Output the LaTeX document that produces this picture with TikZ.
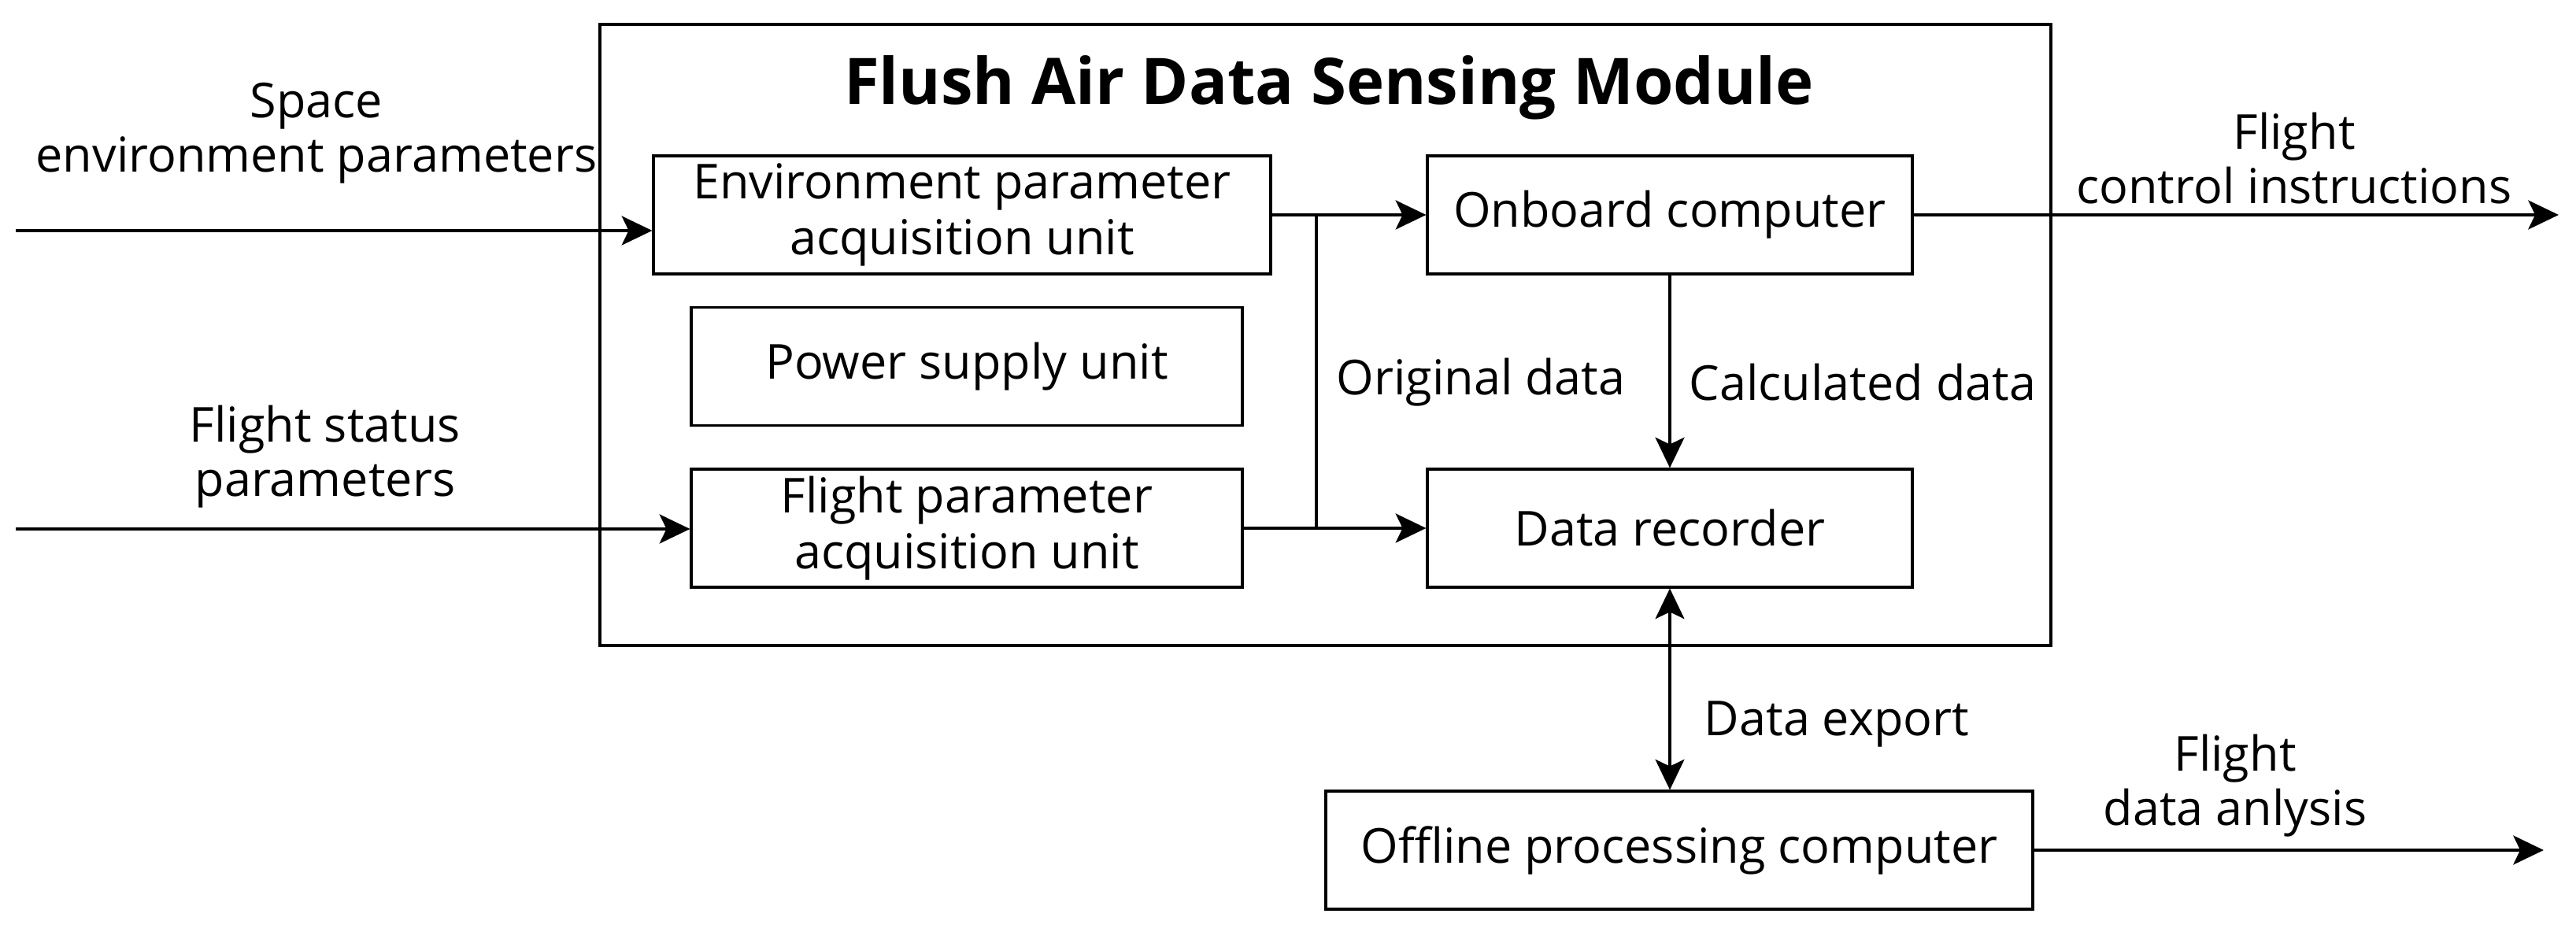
\documentclass[tikz,border=0pt]{standalone}
\usepackage{fontspec}
\setmainfont{Open Sans}
\usetikzlibrary{arrows.meta,positioning}

\begin{document}
\begin{tikzpicture}[
        unit/.style={draw, line width=0.9pt, minimum height=1.5cm, align=center,
                     font=\fontsize{17.4}{20}\selectfont, inner sep=0pt},
        lbl/.style ={align=center, font=\fontsize{17.4}{19.5}\selectfont, inner sep=0pt},
        arr/.style ={-{Stealth[length=11pt, width=10.5pt, inset=2.5pt]}, line width=1.2pt},
        dbl/.style ={{Stealth[length=11pt, width=10.5pt, inset=2.5pt]}-{Stealth[length=11pt, width=10.5pt, inset=2.5pt]}, line width=0.9pt},
        ln/.style  ={line width=0.9pt},
    ]
        \useasboundingbox (0,0) rectangle (32.72,11.84);

        % Module frame and title
        \node[draw, line width=0.9pt, minimum width=18.43cm, minimum height=7.89cm,
              inner sep=0pt] (mod) at (16.835,7.585) {};
        \node[font=\fontsize{23.2}{28}\selectfont\bfseries, anchor=base, inner sep=0pt]
              (title) at (16.88,10.51) {Flush Air Data Sensing Module};

        % Left column
        \node[unit, minimum width=7.84cm] (env)   at (12.22,9.11) {Environment parameter\\acquisition unit};
        \node[unit, minimum width=7.0cm]  (power) at (12.28,7.185) {Power supply unit};
        \node[unit, minimum width=7.0cm]  (facq)  at (12.28,5.13) {Flight parameter\\acquisition unit};

        % Right column
        \node[unit, minimum width=6.16cm] (obc)   at (21.21,9.11) {Onboard computer};
        \node[unit, minimum width=6.16cm] (rec)   at (21.21,5.13) {Data recorder};

        % Outside the module
        \node[unit, minimum width=8.98cm] (off)   at (21.33,1.04) {Offline processing computer};

        % Free ends
        \coordinate (in1)  at (0.20,8.91);
        \coordinate (in2)  at (0.20,5.12);
        \coordinate (out1) at (32.50,9.11);
        \coordinate (out2) at (32.31,1.04);
        \coordinate (jx)   at (16.72,0);

        % Inputs
        \draw[arr] (in1) -- (in1 -| env.west);
        \draw[arr] (in2) -- (in2 -| facq.west);
        \node[lbl] (lin1) at (4.02,10.15) {Space\\environment parameters};
        \node[lbl] (lin2) at (4.13,6.04) {Flight status\\parameters};

        % Inside the module
        \draw[arr] (env) -- (obc);
        \draw[arr] (facq) -- (rec);
        \draw[ln]  (jx |- env.east) -- (jx |- facq.east);
        \draw[arr] (obc) -- (rec);
        \node[lbl] (lorig) at (18.81,6.98) {Original data};
        \node[lbl] (lcalc) at (23.66,6.98) {Calculated data};

        % Export and outputs
        \draw[dbl] (rec.south) -- (rec.south |- off.north);
        \node[lbl] (lexp) at (23.33,2.64) {Data export};
        \draw[arr] (obc) -- (out1);
        \draw[arr] (off) -- (out2);
        \node[lbl] (lout1) at (29.14,9.83) {Flight\\control instructions};
        \node[lbl] (lout2) at (28.39,1.86) {Flight\\data anlysis};
    \end{tikzpicture}
\end{document}
